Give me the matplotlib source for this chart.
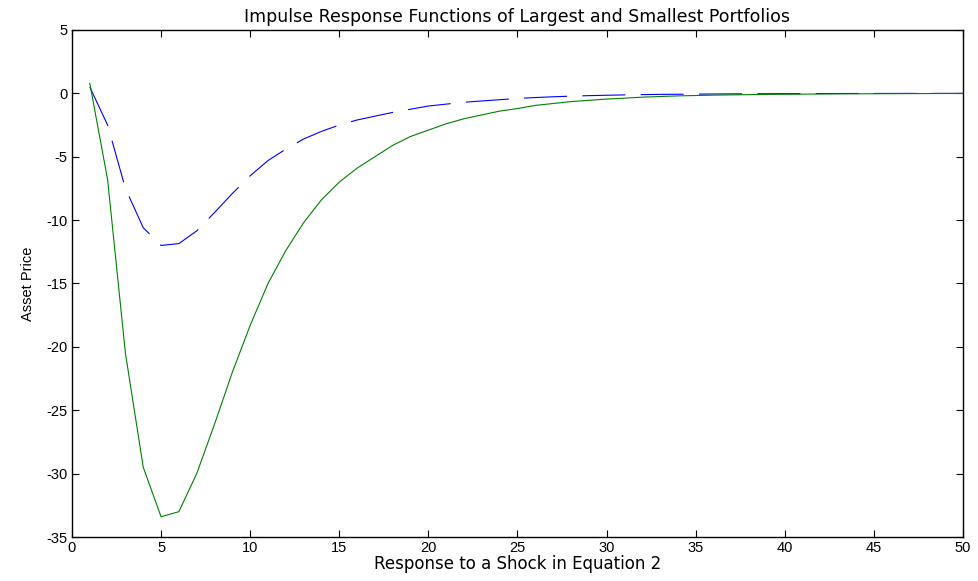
import matplotlib
matplotlib.use('Agg')
import matplotlib.pyplot as plt
import numpy as np

periods = list(range(1, 51))

# smallest portfolio response (solid green)
small_resp = [0.8, -6.8, -20.5, -29.5, -33.4, -33.0, -30.0, -26.1, -22.0, -18.3,
              -15.0, -12.4, -10.2, -8.4, -7.0, -5.9, -5.0, -4.1, -3.4, -2.9,
              -2.4, -2.0, -1.7, -1.4, -1.2, -0.95, -0.8, -0.65, -0.55, -0.45,
              -0.38, -0.3, -0.25, -0.2, -0.17, -0.14, -0.12, -0.1, -0.08, -0.07,
              -0.06, -0.05, -0.04, -0.035, -0.03, -0.025, -0.02, -0.015, -0.01, -0.01]

# largest portfolio response (dashed blue)
large_resp = [0.5, -2.5, -7.5, -10.6, -12.0, -11.85, -10.85, -9.4, -7.9, -6.5,
              -5.3, -4.4, -3.6, -3.0, -2.5, -2.1, -1.8, -1.5, -1.25, -1.0,
              -0.85, -0.7, -0.6, -0.5, -0.4, -0.33, -0.27, -0.22, -0.18, -0.15,
              -0.12, -0.1, -0.08, -0.07, -0.06, -0.05, -0.04, -0.035, -0.03, -0.025,
              -0.02, -0.015, -0.012, -0.01, -0.008, -0.006, -0.005, -0.004, -0.003, -0.002]

x_ticks = list(range(0, 51, 5))
y_ticks = list(range(-35, 6, 5))

plt.rcParams['font.family'] = ['Liberation Sans', 'DejaVu Sans']
plt.rcParams['lines.scale_dashes'] = False
plt.rcParams['axes.unicode_minus'] = False

fig = plt.figure(figsize=(9.79, 5.81), dpi=100)
ax = fig.add_axes([0.0735, 0.0757, 0.9102, 0.8727])

ax.plot(periods, large_resp, color='#0000ff', lw=0.8, dashes=(31, 11))
ax.plot(periods, small_resp, color='#008000', lw=0.8)

ax.set_xlim(0, 50)
ax.set_ylim(-35, 5)
ax.set_xticks(x_ticks)
ax.set_yticks(y_ticks)
ax.tick_params(direction='in', top=True, right=True, labelsize=10.5, length=5, width=0.8, pad=3)
for sp in ax.spines.values():
    sp.set_linewidth(1.0)

ax.set_title('Impulse Response Functions of Largest and Smallest Portfolios',
             fontsize=12.5, family='DejaVu Sans', pad=6)
ax.set_xlabel('Response to a Shock in Equation 2', fontsize=12, family='DejaVu Sans', labelpad=0)
ax.set_ylabel('Asset Price', fontsize=10.5, labelpad=8)

fig.savefig('out.png', dpi=100)
